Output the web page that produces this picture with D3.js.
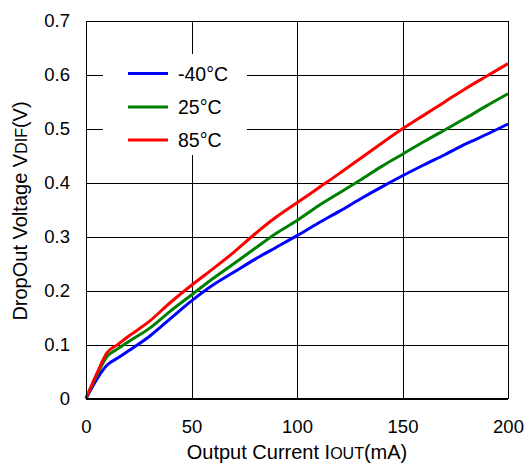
<!DOCTYPE html>
<html><head><meta charset="utf-8">
<script src="https://cdn.jsdelivr.net/npm/d3@7"></script>
<style>body{margin:0;background:#fff}svg{display:block;font-family:"Liberation Sans",Arial,sans-serif}</style>
</head><body><svg id="c" width="529" height="464"></svg>
<script>
const current = [0,5,10,15,20,30,40,50,60,70,80,90,100,110,120,130,140,150,160,170,180,190,200];
const vMinus40 = [0,0.035,0.062,0.075,0.088,0.115,0.148,0.181,0.21,0.234,0.258,0.28,0.302,0.325,0.347,0.37,0.392,0.413,0.433,0.452,0.472,0.49,0.509];
const v25 = [0,0.042,0.078,0.092,0.105,0.13,0.162,0.192,0.222,0.25,0.278,0.306,0.33,0.357,0.381,0.405,0.43,0.453,0.476,0.498,0.52,0.543,0.565];
const v85 = [0,0.045,0.085,0.1,0.115,0.143,0.178,0.21,0.24,0.271,0.305,0.336,0.363,0.39,0.417,0.445,0.473,0.5,0.525,0.55,0.575,0.598,0.621];
const seriesNames = ["-40°C","25°C","85°C"];
const seriesColors = ["#0000ff","#008000","#ff0000"];
const xTicks = [0,50,100,150,200];
const yTicks = [0,0.1,0.2,0.3,0.4,0.5,0.6,0.7];

const svg = d3.select("#c");
const L=86, R=508, T=21, B=398.5;
const x = d3.scaleLinear().domain([0,200]).range([L,R]);
const y = d3.scaleLinear().domain([0,0.7]).range([B,T]);

const g = svg.append("g");
g.selectAll(".hg").data(yTicks).join("line")
 .attr("x1",L).attr("x2",R).attr("y1",d=>Math.round(y(d))+0.5).attr("y2",d=>Math.round(y(d))+0.5)
 .attr("stroke","#000").attr("stroke-width",1);
g.selectAll(".vg").data(xTicks).join("line")
 .attr("y1",T).attr("y2",B).attr("x1",d=>Math.round(x(d))+0.5).attr("x2",d=>Math.round(x(d))+0.5)
 .attr("stroke","#000").attr("stroke-width",1);

const yAxis = svg.append("g").attr("transform",`translate(${L},0)`)
 .call(d3.axisLeft(y).tickValues(yTicks).tickFormat(d=>d===0?"0":d3.format(".1f")(d)).tickSize(0).tickPadding(16));
yAxis.select(".domain").remove();
yAxis.selectAll("text").attr("font-size",18.5).attr("fill","#000").attr("font-family","Liberation Sans, Arial, sans-serif");
const xAxis = svg.append("g").attr("transform",`translate(0,${B})`)
 .call(d3.axisBottom(x).tickValues(xTicks).tickFormat(d3.format("d")).tickSize(0).tickPadding(21));
xAxis.select(".domain").remove();
xAxis.selectAll("text").attr("font-size",18.5).attr("fill","#000").attr("font-family","Liberation Sans, Arial, sans-serif");

svg.append("rect").attr("x",103).attr("y",54).attr("width",144).attr("height",101).attr("fill","#fff");

const series = [vMinus40, v25, v85];
const line = d3.line().x((d,i)=>x(current[i])).y(d=>y(d)).curve(d3.curveMonotoneX);
svg.append("g").selectAll("path").data(series).join("path")
 .attr("d",line).attr("fill","none").attr("stroke",(d,i)=>seriesColors[i])
 .attr("stroke-width",3).attr("stroke-linejoin","round");

svg.append("rect").attr("x",L+0.5).attr("y",T+0.5).attr("width",R-L).attr("height",B-T-0.5)
 .attr("fill","none").attr("stroke","#000").attr("stroke-width",1);

const lg = svg.append("g");
const ly = [73.5,107,140];
seriesNames.forEach((n,i)=>{
  lg.append("line").attr("x1",128).attr("x2",168).attr("y1",ly[i]).attr("y2",ly[i])
    .attr("stroke",seriesColors[i]).attr("stroke-width",3);
  lg.append("text").attr("x",178).attr("y",ly[i]+7).attr("font-size",19.5).text(n);
});

const xt = svg.append("text").attr("x",297).attr("y",459).attr("text-anchor","middle").attr("font-size",20);
xt.append("tspan").text("Output Current I");
xt.append("tspan").attr("font-size",16).text("OUT");
xt.append("tspan").text("(mA)");
const yt = svg.append("text").attr("transform","translate(27,211) rotate(-90)").attr("text-anchor","middle").attr("font-size",20);
yt.append("tspan").text("DropOut Voltage V");
yt.append("tspan").attr("font-size",16).text("DIF");
yt.append("tspan").text("(V)");
</script></body></html>
